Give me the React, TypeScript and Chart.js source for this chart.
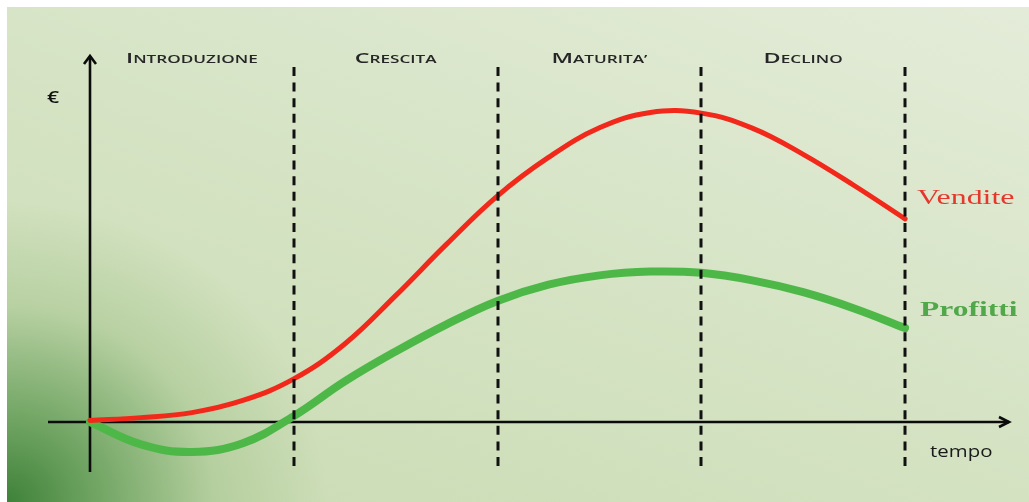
import { useEffect, useRef } from 'react';
import { Chart, registerables } from 'chart.js';

Chart.register(...registerables);

// Fasi del ciclo di vita del prodotto (una unità di tempo per fase)
const fasi = ['INTRODUZIONE', 'CRESCITA', 'MATURITA’', 'DECLINO'];

// Istanti di tempo campionati (in fasi)
const tempo = [0, 0.25, 0.5, 0.75, 1, 1.25, 1.5, 1.75, 2, 2.25, 2.5, 2.75, 3, 3.25, 3.5, 3.75, 4];

// Andamento delle vendite
const vendite = [0.5, 1.4, 3.0, 6.9, 13.8, 25.0, 40.5, 57.0, 72.5, 84.8, 94.3, 99.2, 99.0, 94.2, 85.8, 75.8, 65.1];

// Andamento dei profitti
const profitti = [0, -7.2, -9.6, -6.8, 1.9, 13.0, 22.6, 31.3, 38.8, 44.0, 47.0, 48.2, 47.8, 45.4, 41.6, 36.4, 30.1];

const nomiSerie = ['Vendite', 'Profitti'];
const etichettaAsseY = '€';
const etichettaAsseX = 'tempo';

const ROSSO = '#f2281b';
const VERDE = '#4db848';

type Part = { text: string; font: string };

// Disegna testo allargato orizzontalmente di un fattore sx
function drawStretched(
  ctx: CanvasRenderingContext2D,
  parts: Part[],
  x: number,
  baseline: number,
  sx: number,
  align: 'left' | 'center',
  color: string
) {
  let natural = 0;
  const widths = parts.map((p) => {
    ctx.font = p.font;
    const w = ctx.measureText(p.text).width;
    natural += w;
    return w;
  });
  const total = natural * sx;
  const start = align === 'center' ? x - total / 2 : x;
  ctx.save();
  ctx.translate(start, baseline);
  ctx.scale(sx, 1);
  ctx.fillStyle = color;
  ctx.textAlign = 'left';
  ctx.textBaseline = 'alphabetic';
  let cx = 0;
  parts.forEach((p, i) => {
    ctx.font = p.font;
    ctx.fillText(p.text, cx, 0);
    cx += widths[i];
  });
  ctx.restore();
}

const cicloPlugin = {
  id: 'cicloVita',
  beforeDatasetsDraw(chart: any) {
    const { ctx, chartArea: a, scales } = chart;
    const x0 = scales.x.getPixelForValue(0);
    const y0 = scales.y.getPixelForValue(0);
    ctx.save();
    ctx.strokeStyle = '#0b0b0b';
    ctx.lineWidth = 2.6;
    ctx.lineCap = 'butt';
    ctx.lineJoin = 'miter';
    // asse verticale con freccia
    ctx.beginPath();
    ctx.moveTo(x0, a.bottom);
    ctx.lineTo(x0, a.top + 1);
    ctx.stroke();
    ctx.beginPath();
    ctx.moveTo(x0 - 6, a.top + 9);
    ctx.lineTo(x0, a.top + 1);
    ctx.lineTo(x0 + 6, a.top + 9);
    ctx.stroke();
    // asse orizzontale con freccia
    ctx.beginPath();
    ctx.moveTo(a.left, y0);
    ctx.lineTo(a.right - 1, y0);
    ctx.stroke();
    ctx.beginPath();
    ctx.moveTo(a.right - 11, y0 - 5);
    ctx.lineTo(a.right - 1, y0);
    ctx.lineTo(a.right - 11, y0 + 5);
    ctx.stroke();
    ctx.restore();
  },
  afterDatasetsDraw(chart: any) {
    const { ctx, chartArea: a, scales } = chart;
    const xs = scales.x;
    const ys = scales.y;
    const x0 = xs.getPixelForValue(0);
    const y0 = ys.getPixelForValue(0);
    ctx.save();
    // separatori tratteggiati tra le fasi
    ctx.strokeStyle = '#111';
    ctx.lineWidth = 3;
    ctx.setLineDash([9, 6.6]);
    for (let i = 1; i <= fasi.length; i++) {
      const px = Math.round(xs.getPixelForValue(i));
      ctx.beginPath();
      ctx.moveTo(px, a.top + 12);
      ctx.lineTo(px, a.bottom);
      ctx.stroke();
    }
    ctx.setLineDash([]);
    ctx.restore();

    // titoli delle fasi in maiuscoletto
    fasi.forEach((f, i) => {
      const cx = xs.getPixelForValue(i + 0.5);
      drawStretched(
        ctx,
        [
          { text: f[0], font: '600 15px "Open Sans"' },
          { text: f.slice(1), font: '600 11px "Open Sans"' },
        ],
        cx,
        a.top + 8,
        1.56,
        'center',
        '#262626'
      );
    });

    // etichette delle serie a fine curva
    const xEnd = xs.getPixelForValue(tempo[tempo.length - 1]);
    drawStretched(
      ctx,
      [{ text: nomiSerie[0], font: '22px "Liberation Serif"' }],
      xEnd + 12,
      ys.getPixelForValue(vendite[vendite.length - 1]) - 15,
      1.45,
      'left',
      '#e5372c'
    );
    drawStretched(
      ctx,
      [{ text: nomiSerie[1], font: 'bold 21px "Liberation Serif"' }],
      xEnd + 15,
      ys.getPixelForValue(profitti[profitti.length - 1]) - 12,
      1.5,
      'left',
      '#50a84b'
    );

    // etichette degli assi
    drawStretched(ctx, [{ text: etichettaAsseY, font: '600 17px "Open Sans"' }], x0 - 37, a.top + 48, 1.25, 'center', '#111');
    drawStretched(ctx, [{ text: etichettaAsseX, font: '17px "Open Sans"' }], xEnd + 25, y0 + 35, 1.2, 'left', '#1a1a1a');
  },
};

export default function App() {
  const canvasRef = useRef<HTMLCanvasElement | null>(null);

  useEffect(() => {
    const canvas = canvasRef.current;
    if (!canvas) return;
    const chart = new Chart(canvas, {
      type: 'line',
      data: {
        datasets: [
          {
            label: nomiSerie[0],
            data: tempo.map((t, i) => ({ x: t, y: vendite[i] })),
            borderColor: ROSSO,
            borderWidth: 5,
            borderCapStyle: 'round',
            pointRadius: 0,
            tension: 0.4,
            clip: false,
          },
          {
            label: nomiSerie[1],
            data: tempo.map((t, i) => ({ x: t, y: profitti[i] })),
            borderColor: VERDE,
            borderWidth: 8,
            borderCapStyle: 'round',
            pointRadius: 0,
            tension: 0.4,
            clip: false,
          },
        ],
      },
      options: {
        responsive: true,
        maintainAspectRatio: false,
        animation: false,
        events: [],
        layout: { padding: { left: 41, right: 19, top: 48, bottom: 30 } },
        scales: {
          x: { type: 'linear', min: -0.2061, max: 4.515, display: false },
          y: { type: 'linear', min: -16.03, max: 117.63, display: false },
        },
        plugins: {
          legend: { display: false },
          tooltip: { enabled: false },
        },
      },
      plugins: [cicloPlugin],
    });

    const fonts = ['600 15px "Open Sans"', '17px "Open Sans"', '22px "Liberation Serif"', 'bold 21px "Liberation Serif"'];
    Promise.all(fonts.map((f) => document.fonts.load(f)))
      .then(() => chart.draw())
      .catch(() => {});

    return () => chart.destroy();
  }, []);

  return (
    <div
      style={{
        position: 'fixed',
        left: 7,
        top: 7,
        right: 0,
        bottom: 0,
        background:
          'radial-gradient(ellipse 320px 300px at 0% 100%, rgba(55,125,50,0.95) 0%, rgba(80,145,70,0.7) 30%, rgba(130,175,105,0.3) 65%, rgba(150,185,125,0) 100%),' +
          'linear-gradient(200deg, #e4ecd9 0%, #d8e5c8 40%, #c9dbb2 100%)',
      }}
    >
      <div style={{ position: 'relative', width: '100%', height: '100%' }}>
        <canvas ref={canvasRef} />
      </div>
    </div>
  );
}
